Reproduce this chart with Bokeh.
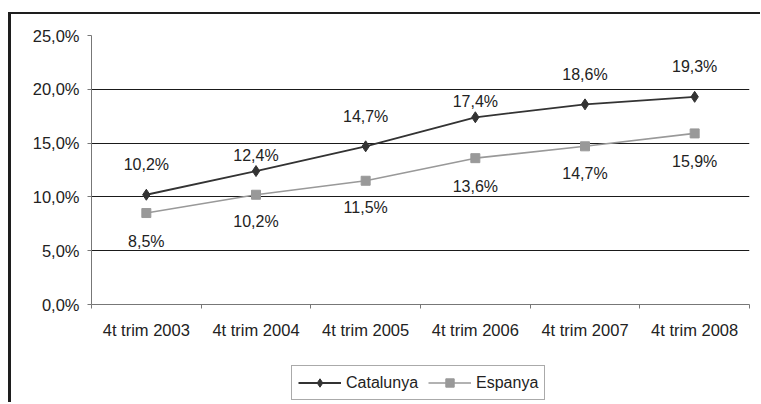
from bokeh.plotting import figure
from bokeh.layouts import column
from bokeh.models import (ColumnDataSource, Range1d, FixedTicker, CustomJSTickFormatter,
                          Grid, Legend, LegendItem)
from bokeh.core.properties import value
from bokeh.embed import file_html
from bokeh.resources import INLINE

# ---- data ----
categories = ["4t trim 2003", "4t trim 2004", "4t trim 2005",
              "4t trim 2006", "4t trim 2007", "4t trim 2008"]
catalunya = [10.2, 12.4, 14.7, 17.4, 18.6, 19.3]
espanya = [8.5, 10.2, 11.5, 13.6, 14.7, 15.9]
y_ticks = [0, 5, 10, 15, 20, 25]
series_names = ["Catalunya", "Espanya"]

# ---- label placement (screen px, style only) ----
cat_label_dy = [-30, -16, -30, -16, -30, -30]
esp_label_dy = [28, 27, 27, 28, 27, 28]

FONT = "Liberation Sans"
TXT = "#222222"
CAT_COLOR = "#333333"
ESP_COLOR = "#999999"

xs = [i + 0.5 for i in range(len(categories))]


def fmt(v):
    return f"{v:.1f}".replace(".", ",") + "%"


cat_src = ColumnDataSource(dict(x=xs, y=catalunya, label=[fmt(v) for v in catalunya], dy=cat_label_dy))
esp_src = ColumnDataSource(dict(x=xs, y=espanya, label=[fmt(v) for v in espanya], dy=esp_label_dy))


def add_series(fig):
    el = fig.line("x", "y", source=esp_src, line_color=ESP_COLOR, line_width=1.6)
    es = fig.scatter("x", "y", source=esp_src, marker="square", size=9,
                     fill_color=ESP_COLOR, line_color=ESP_COLOR)
    cl = fig.line("x", "y", source=cat_src, line_color=CAT_COLOR, line_width=1.8)
    cs = fig.scatter("x", "y", source=cat_src, marker="diamond", size=11,
                     fill_color=CAT_COLOR, line_color=CAT_COLOR)
    return cl, cs, el, es


p = figure(width=749, height=336, output_backend="svg", toolbar_location=None,
           x_range=Range1d(0, len(categories)), y_range=Range1d(y_ticks[0], y_ticks[-1]),
           min_border_left=80, min_border_right=11, min_border_top=21, min_border_bottom=46,
           outline_line_color=None, background_fill_color="white", border_fill_color="white")

# grids
p.xgrid.visible = False
p.ygrid.ticker = FixedTicker(ticks=y_ticks[1:-1])
p.ygrid.grid_line_color = "#1a1a1a"
p.ygrid.grid_line_width = 1
top_grid = Grid(dimension=1, ticker=FixedTicker(ticks=[y_ticks[-1]]), grid_line_color="#d9d9d9")
p.add_layout(top_grid)

add_series(p)

for src in (cat_src, esp_src):
    p.text("x", "y", text="label", source=src, y_offset="dy", text_align="center",
           text_baseline="middle", text_font=value(FONT), text_font_size="16px",
           text_color=TXT)

# y axis
ya = p.yaxis[0]
ya.ticker = FixedTicker(ticks=y_ticks)
ya.formatter = CustomJSTickFormatter(code="return tick.toFixed(1).replace('.', ',') + '%';")
ya.axis_line_color = "#777777"
ya.major_tick_line_color = "#777777"
ya.major_tick_in = 0
ya.major_tick_out = 4
ya.minor_tick_line_color = None
ya.major_label_standoff = 8
ya.major_label_text_font = FONT
ya.major_label_text_font_size = "16.5px"
ya.major_label_text_color = TXT

# x axis (ticks between categories)
xa = p.xaxis[0]
xa.ticker = FixedTicker(ticks=xs, minor_ticks=list(range(len(categories) + 1)))
xa.formatter = CustomJSTickFormatter(args=dict(labels=categories),
                                     code="return labels[Math.floor(tick)];")
xa.axis_line_color = "#777777"
xa.major_tick_line_color = None
xa.major_tick_in = 0
xa.major_tick_out = 4
xa.minor_tick_line_color = "#777777"
xa.minor_tick_in = 0
xa.minor_tick_out = 4
xa.major_label_standoff = 12
xa.major_label_text_font = FONT
xa.major_label_text_font_size = "16.5px"
xa.major_label_text_color = TXT

# ---- legend strip (separate figure below the chart; its view range shows no data) ----
lf = figure(width=749, height=52, output_backend="svg", toolbar_location=None,
            x_range=Range1d(-2, -1), y_range=Range1d(-2, -1),
            x_axis_location=None, y_axis_location=None, min_border=0,
            outline_line_color=None, background_fill_color="white", border_fill_color="white")
lf.grid.visible = False
cl, cs, el, es = add_series(lf)

legend = Legend(items=[LegendItem(label=series_names[0], renderers=[cl, cs]),
                       LegendItem(label=series_names[1], renderers=[el, es])],
                orientation="horizontal", location=(200, 2),
                label_text_font=FONT, label_text_font_size="16px", label_text_color=TXT,
                glyph_width=43, glyph_height=21, label_height=21, label_standoff=5,
                spacing=10, padding=6, margin=0,
                border_line_color="#555555", border_line_width=1,
                background_fill_color="white", background_fill_alpha=1)
lf.add_layout(legend)

layout = column(p, lf, spacing=0,
                styles={"margin-left": "8px", "margin-top": "12px",
                        "border-top": "2px solid #1e1e1e", "border-left": "3px solid #1e1e1e"})

open("out.html", "w").write(file_html(layout, INLINE))
